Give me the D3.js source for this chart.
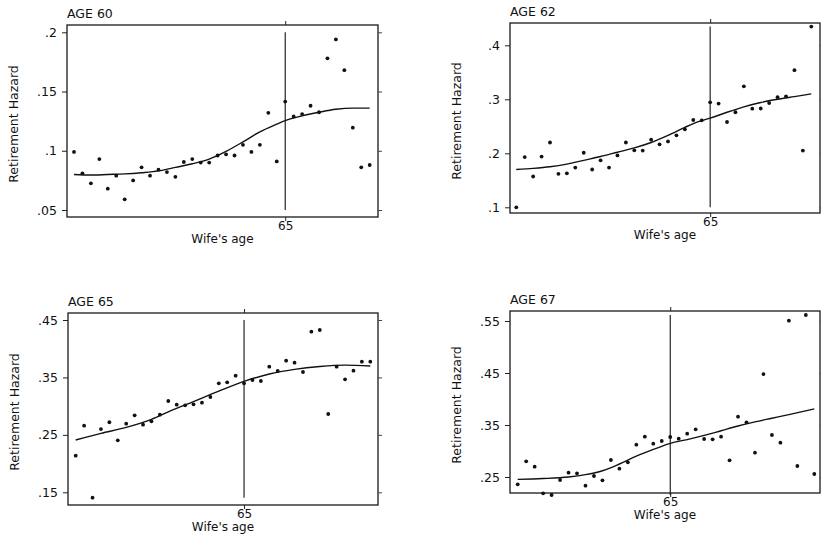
<!DOCTYPE html>
<html>
<head>
<meta charset="utf-8">
<script src="https://cdn.jsdelivr.net/npm/d3@7"></script>
<style>
  body { margin: 0; background: #fff; }
  text { font-family: "DejaVu Sans", Arial, sans-serif; fill: #111; }
</style>
</head>
<body>
<script>
var width = 821,
    height = 534;

// husband's age panels
var titles = ["AGE 60", "AGE 62", "AGE 65", "AGE 67"];

// wife's age, one point per year
var ages60 = [40, 41, 42, 43, 44, 45, 46, 47, 48, 49, 50, 51, 52, 53, 54, 55, 56, 57,
              58, 59, 60, 61, 62, 63, 64, 65, 66, 67, 68, 69, 70, 71, 72, 73, 74, 75];
var ages62 = [42, 43, 44, 45, 46, 47, 48, 49, 50, 51, 52, 53, 54, 55, 56, 57, 58, 59,
              60, 61, 62, 63, 64, 65, 66, 67, 68, 69, 70, 71, 72, 73, 74, 75, 76, 77];
var ages65 = [45, 46, 47, 48, 49, 50, 51, 52, 53, 54, 55, 56, 57, 58, 59, 60, 61, 62,
              63, 64, 65, 66, 67, 68, 69, 70, 71, 72, 73, 74, 75, 76, 77, 78, 79, 80];
var ages67 = [47, 48, 49, 50, 51, 52, 53, 54, 55, 56, 57, 58, 59, 60, 61, 62, 63, 64,
              65, 66, 67, 68, 69, 70, 71, 72, 73, 74, 75, 76, 77, 78, 79, 80, 81, 82];

// observed retirement hazard
var hazard60 = [0.099, 0.081, 0.0725, 0.093, 0.068, 0.079, 0.059, 0.075, 0.086, 0.079,
                0.084, 0.082, 0.078, 0.0905, 0.093, 0.090, 0.090, 0.096, 0.097, 0.096,
                0.105, 0.099, 0.105, 0.132, 0.091, 0.1415, 0.129, 0.131, 0.138, 0.1325,
                0.178, 0.194, 0.168, 0.1195, 0.086, 0.088];
var hazard62 = [0.100, 0.193, 0.157, 0.194, 0.220, 0.162, 0.163, 0.1735, 0.201, 0.170,
                0.187, 0.1735, 0.196, 0.220, 0.2056, 0.205, 0.2253, 0.2167, 0.222, 0.2333,
                0.2444, 0.2617, 0.261, 0.2944, 0.292, 0.258, 0.276, 0.324, 0.2827, 0.283,
                0.293, 0.304, 0.3056, 0.354, 0.205, 0.4346];
var hazard65 = [0.2138, 0.266, 0.1407, 0.260, 0.272, 0.2405, 0.2695, 0.284, 0.2678, 0.2736,
                0.2852, 0.309, 0.3026, 0.3014, 0.3032, 0.306, 0.3159, 0.3397, 0.3415, 0.353,
                0.3397, 0.3455, 0.3438, 0.3687, 0.3612, 0.3792, 0.3757, 0.3595, 0.4297, 0.4326,
                0.2863, 0.3687, 0.3467, 0.3618, 0.3775, 0.3775];
var hazard67 = [0.2359, 0.2801, 0.2699, 0.2186, 0.2154, 0.2442, 0.2583, 0.257, 0.2333, 0.2519,
                0.2436, 0.2827, 0.266, 0.2782, 0.3122, 0.3276, 0.3141, 0.3192, 0.3269, 0.3237,
                0.3333, 0.3417, 0.3231, 0.3224, 0.3276, 0.282, 0.366, 0.3551, 0.2968, 0.448,
                0.3308, 0.316, 0.5506, 0.2712, 0.5615, 0.2558];

// smoothed hazard
var fitAges60 = [40, 42, 44, 46, 48, 50, 52, 54, 56, 58, 60, 62, 64, 65, 67, 69, 71, 73, 75];
var fit60 = [0.080, 0.0795, 0.080, 0.0805, 0.0815, 0.083, 0.086, 0.089, 0.093, 0.0995,
             0.1075, 0.1160, 0.1225, 0.1255, 0.1295, 0.1325, 0.135, 0.136, 0.136];
var fitAges62 = [42, 44, 46, 48, 50, 52, 54, 56, 58, 60, 62, 63, 65, 67, 69, 71, 73, 75, 77];
var fit62 = [0.170, 0.172, 0.175, 0.180, 0.187, 0.194, 0.202, 0.210, 0.220, 0.233,
             0.248, 0.255, 0.265, 0.276, 0.286, 0.294, 0.300, 0.305, 0.310];
var fitAges65 = [45, 48, 51, 54, 56, 59, 62, 65, 68, 71, 74, 77, 80];
var fit65 = [0.241, 0.2525, 0.263, 0.277, 0.290, 0.308, 0.326, 0.343, 0.356, 0.364,
             0.369, 0.3715, 0.370];
var fitAges67 = [47, 50, 53, 55, 57, 59, 61, 63, 65, 67, 69, 71, 73, 75, 77, 79, 82];
var fit67 = [0.2455, 0.247, 0.250, 0.2545, 0.262, 0.275, 0.290, 0.303, 0.3148, 0.322,
             0.330, 0.339, 0.348, 0.356, 0.363, 0.370, 0.381];

// y ticks and their labels
var ticks60 = [0.05, 0.1, 0.15, 0.2],   tickLabels60 = [".05", ".1", ".15", ".2"];
var ticks62 = [0.1, 0.2, 0.3, 0.4],     tickLabels62 = [".1", ".2", ".3", ".4"];
var ticks65 = [0.15, 0.25, 0.35, 0.45], tickLabels65 = [".15", ".25", ".35", ".45"];
var ticks67 = [0.25, 0.35, 0.45, 0.55], tickLabels67 = [".25", ".35", ".45", ".55"];

var markAge = 65;

// where each panel sits on the page
var layout = [
  {left: 67,  right: 378, top: 25,  bottom: 217, yLo: 210,   yHi: 32.3, xLo: 74,    xHi: 369.7},
  {left: 510, right: 820, top: 23,  bottom: 213, yLo: 207.3, yHi: 45.3, xLo: 516.3, xHi: 811.3},
  {left: 68,  right: 378, top: 313, bottom: 505, yLo: 492.3, yHi: 320,  xLo: 75.7,  xHi: 370.3},
  {left: 510, right: 820, top: 311, bottom: 493, yLo: 477,   yHi: 321,  xLo: 517.7, xHi: 814.3}
];

var panels = [
  {ages: ages60, hazard: hazard60, fitAges: fitAges60, fit: fit60, ticks: ticks60, labels: tickLabels60},
  {ages: ages62, hazard: hazard62, fitAges: fitAges62, fit: fit62, ticks: ticks62, labels: tickLabels62},
  {ages: ages65, hazard: hazard65, fitAges: fitAges65, fit: fit65, ticks: ticks65, labels: tickLabels65},
  {ages: ages67, hazard: hazard67, fitAges: fitAges67, fit: fit67, ticks: ticks67, labels: tickLabels67}
];

var font = "DejaVu Sans, Arial, sans-serif";

var svg = d3.select("body").append("svg")
    .attr("width", width)
    .attr("height", height);

panels.forEach((p, i) => {
  var L = layout[i];
  var g = svg.append("g");

  var x = d3.scaleLinear()
      .domain(d3.extent(p.ages))
      .range([L.xLo, L.xHi]);

  var y = d3.scaleLinear()
      .domain(d3.extent(p.ticks))
      .range([L.yLo, L.yHi]);

  // frame
  g.append("rect")
      .attr("x", L.left)
      .attr("y", L.top)
      .attr("width", L.right - L.left)
      .attr("height", L.bottom - L.top)
      .attr("fill", "none")
      .attr("stroke", "#1a1a1a")
      .attr("stroke-width", 1.3);

  // left axis with labels, right axis ticks only
  var yAxis = g.append("g")
      .attr("transform", `translate(${L.left},0)`)
      .call(d3.axisLeft(y).tickValues(p.ticks).tickSize(5).tickPadding(5)
        .tickFormat((d, j) => p.labels[j]));
  yAxis.select(".domain").remove();
  yAxis.selectAll("text")
      .attr("font-size", 12.5)
      .attr("font-family", font)
      .attr("fill", "#111");
  yAxis.selectAll("line").attr("stroke", "#222");

  var yAxisR = g.append("g")
      .attr("transform", `translate(${L.right},0)`)
      .call(d3.axisRight(y).tickValues(p.ticks).tickSize(4).tickFormat(""));
  yAxisR.select(".domain").remove();
  yAxisR.selectAll("line").attr("stroke", "#444");

  // 65 tick on bottom and top
  var xAxis = g.append("g")
      .attr("transform", `translate(0,${L.bottom})`)
      .call(d3.axisBottom(x).tickValues([markAge]).tickSize(4).tickFormat(d3.format("d")));
  xAxis.select(".domain").remove();
  xAxis.selectAll("text")
      .attr("y", 12.5)
      .attr("dy", 0)
      .attr("font-size", 12)
      .attr("font-family", font)
      .attr("fill", "#111");
  xAxis.selectAll("line").attr("stroke", "#222");

  var xAxisT = g.append("g")
      .attr("transform", `translate(0,${L.top})`)
      .call(d3.axisTop(x).tickValues([markAge]).tickSize(4).tickFormat(""));
  xAxisT.select(".domain").remove();
  xAxisT.selectAll("line").attr("stroke", "#222");

  // vertical reference line at wife's age 65
  var span = d3.extent(p.hazard.concat(p.ticks));
  g.append("line")
      .attr("x1", x(markAge))
      .attr("x2", x(markAge))
      .attr("y1", y(span[0]))
      .attr("y2", y(span[1]))
      .attr("stroke", "#111")
      .attr("stroke-width", 1.1);

  // smoothed curve
  var line = d3.line()
      .x((d) => x(d[0]))
      .y((d) => y(d[1]))
      .curve(d3.curveMonotoneX);

  g.append("path")
      .datum(d3.zip(p.fitAges, p.fit))
      .attr("d", line)
      .attr("fill", "none")
      .attr("stroke", "#111")
      .attr("stroke-width", 1.4);

  // observed points
  g.selectAll(".pt")
      .data(d3.zip(p.ages, p.hazard))
    .enter().append("circle")
      .attr("class", "pt")
      .attr("cx", (d) => x(d[0]))
      .attr("cy", (d) => y(d[1]))
      .attr("r", 1.9)
      .attr("fill", "#111");

  // titles
  g.append("text")
      .attr("x", L.left)
      .attr("y", L.top - 7.5)
      .attr("font-size", 12.5)
      .text(titles[i]);

  g.append("text")
      .attr("x", (L.left + L.right) / 2)
      .attr("y", L.bottom + 26.3)
      .attr("text-anchor", "middle")
      .attr("font-size", 12)
      .text("Wife's age");

  g.append("text")
      .attr("transform", `translate(${L.left - 49},${(L.top + L.bottom) / 2 + 3}) rotate(-90)`)
      .attr("text-anchor", "middle")
      .attr("font-size", 12.5)
      .text("Retirement Hazard");
});
</script>
</body>
</html>
